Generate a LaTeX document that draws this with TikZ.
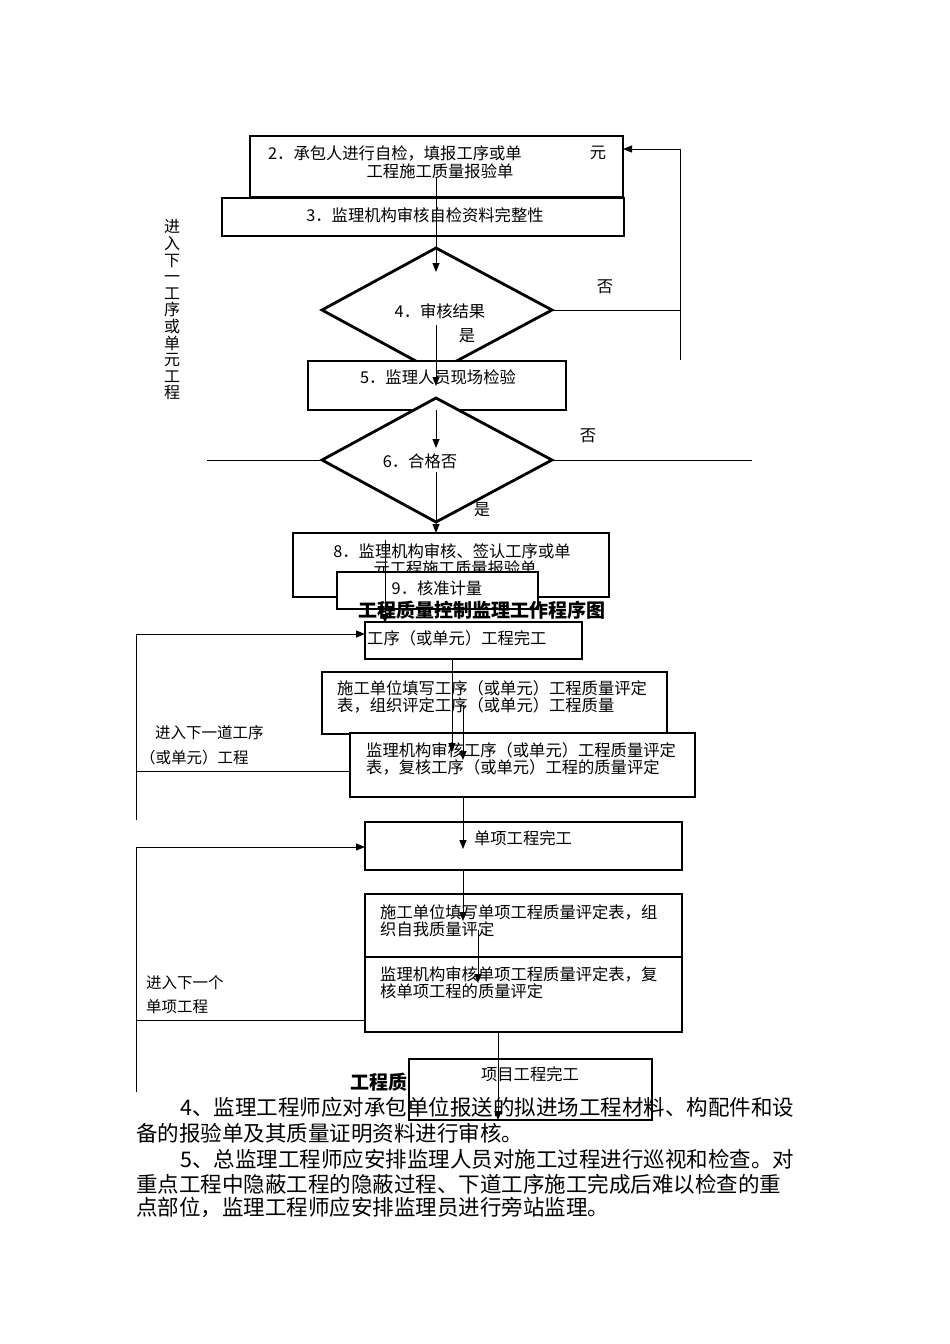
\documentclass[tikz,border=0pt]{standalone}
\usepackage{fontspec}
\setmainfont{Noto Sans CJK SC}
\usetikzlibrary{arrows.meta}
\begin{document}
\begin{tikzpicture}[x=1pt,y=-1pt,
  bx/.style={draw,line width=2.8pt,fill=white},
  dm/.style={draw,line width=2.8pt,fill=white},
  ln/.style={line width=1pt},
  ar/.style={line width=1pt,-{Triangle[length=9pt,width=7pt]}},
  t/.style={inner sep=0pt,font=\fontsize{16.3}{18}\selectfont},
  tl/.style={t,anchor=west},
  lb/.style={inner sep=0pt,anchor=west,font=\fontsize{15.5}{17}\selectfont},
  para/.style={inner sep=0pt,anchor=west,font=\fontsize{21.5}{24}\selectfont}]
\useasboundingbox[fill=white] (0,0) rectangle (950,1344);
% top part
\draw[bx] (250,136) rectangle (623,197);
\node[tl] (t2a) at (268,153) {2．承包人进行自检，填报工序或单};
\node[t] (t2b) at (598,153) {元};
\node[t] (t2c) at (440,171) {工程施工质量报验单};
\draw[bx] (222,198) rectangle (624,236);
\node[t] (t3) at (425,215) {3．监理机构审核自检资料完整性};
\draw[dm] (436,248) -- (552,310) -- (436,372) -- (322,310) -- cycle;
\node[t] (t4) at (440,311) {4．审核结果};
\coordinate (a1) at (436,178); \coordinate (a1e) at (436,272);
\draw[ar] (a1) -- (a1e);
\node[t] (y1) at (467,336) {是};
\node[t] (n1) at (605,287) {否};
\coordinate (r1) at (552,310); \coordinate (r2) at (680,310);
\coordinate (r3) at (680,360); \coordinate (r4) at (680,149); \coordinate (r5) at (623,149);
\draw[ln] (r1) -- (r2); \draw[ln] (r3) -- (r4); \draw[ar] (r4) -- (r5);
\draw[bx] (308,361) rectangle (566,410);
\node[t] (t5) at (438,377) {5．监理人员现场检验};
\coordinate (a2) at (436,325); \coordinate (a2e) at (436,386);
\draw[ar] (a2) -- (a2e);
\draw[dm] (436,398) -- (552,460) -- (436,522) -- (322,460) -- cycle;
\node[t] (t6) at (420,461) {6．合格否};
\coordinate (a3) at (436,410); \coordinate (a3e) at (436,448);
\draw[ar] (a3) -- (a3e);
\coordinate (h1) at (207,460); \coordinate (h2) at (322,460);
\coordinate (h3) at (552,460); \coordinate (h4) at (752,460);
\draw[ln] (h1) -- (h2); \draw[ln] (h3) -- (h4);
\node[t] (n2) at (588,436) {否};
\node[t] (y2) at (482,510) {是};
\coordinate (a4) at (436,472); \coordinate (a4e) at (436,533);
\draw[ar] (a4) -- (a4e);
\node[t,align=center,text width=17pt,font=\fontsize{16}{16.6}\selectfont] (vt) at (172,310) {进\\入\\下\\一\\工\\序\\或\\单\\元\\工\\程};
\draw[bx] (293,533) rectangle (609,597);
\node[t] (t8a) at (452,551) {8．监理机构审核、签认工序或单};
\node[t] (t8b) at (455,568) {元工程施工质量报验单};
\draw[bx] (337,572) rectangle (538,609);
\node[t] (t9) at (437,588) {9．核准计量};
\coordinate (a5) at (385,540); \coordinate (a5e) at (385,623);
\draw[ar] (a5) -- (a5e);
\node[t,font=\bfseries\fontsize{19}{20}\selectfont] (title) at (482,610) {工程质量控制监理工作程序图};
% middle part
\draw[bx] (365,622) rectangle (582,659);
\node[tl] (tg) at (367,638) {工序（或单元）工程完工};
\coordinate (l1) at (136,820); \coordinate (l2) at (136,634); \coordinate (l3) at (365,634);
\draw[ln] (l1) -- (l2); \draw[ar] (l2) -- (l3);
\node[lb] (lab1) at (155,733) {进入下一道工序};
\node[lb] (lab2) at (140,758) {（或单元）工程};
\draw[bx] (322,672) rectangle (667,734);
\node[tl] (tA1) at (337,688) {施工单位填写工序（或单元）工程质量评定};
\node[tl] (tA2) at (337,705) {表，组织评定工序（或单元）工程质量};
\draw[bx] (350,733) rectangle (695,797);
\node[tl] (tB1) at (366,750) {监理机构审核工序（或单元）工程质量评定};
\node[tl] (tB2) at (366,767) {表，复核工序（或单元）工程的质量评定};
\coordinate (m1) at (136,771); \coordinate (m2) at (350,771);
\draw[ln] (m1) -- (m2);
\coordinate (b1) at (452,659); \coordinate (b1e) at (452,752);
\draw[ar] (b1) -- (b1e);
\coordinate (b2) at (463,705); \coordinate (b2e) at (463,760);
\draw[ar] (b2) -- (b2e);
\draw[bx] (365,822) rectangle (682,870);
\node[t] (tD) at (523,838) {单项工程完工};
\coordinate (b3) at (463,797); \coordinate (b3e) at (463,849);
\draw[ar] (b3) -- (b3e);
\coordinate (k1) at (136,1092); \coordinate (k2) at (136,847); \coordinate (k3) at (365,847);
\draw[ln] (k1) -- (k2); \draw[ar] (k2) -- (k3);
\node[lb] (lab3) at (146,983) {进入下一个};
\node[lb] (lab4) at (146,1007) {单项工程};
\draw[bx] (365,894) rectangle (682,957);
\node[tl] (tC1) at (380,912) {施工单位填写单项工程质量评定表，组};
\node[tl] (tC2) at (380,929) {织自我质量评定};
\draw[bx] (365,957) rectangle (682,1032);
\node[tl] (tE1) at (380,974) {监理机构审核单项工程质量评定表，复};
\node[tl] (tE2) at (380,991) {核单项工程的质量评定};
\coordinate (b4) at (463,870); \coordinate (b4e) at (463,921);
\draw[ar] (b4) -- (b4e);
\coordinate (b5) at (478,930); \coordinate (b5e) at (478,983);
\draw[ar] (b5) -- (b5e);
\coordinate (q1) at (136,1020); \coordinate (q2) at (365,1020);
\draw[ln] (q1) -- (q2);
\node[tl,font=\bfseries\fontsize{19}{20}\selectfont] (title2) at (350,1082) {工程质};
\draw[bx] (409,1059) rectangle (652,1120);
\node[t] (tP) at (530,1074) {项目工程完工};
\coordinate (b6) at (498,1032); \coordinate (b6e) at (498,1120);
\draw[ar] (b6) -- (b6e);
% paragraph
\node[para] (p1) at (180,1107) {4、监理工程师应对承包单位报送的拟进场工程材料、构配件和设};
\node[para] (p2) at (136,1133) {备的报验单及其质量证明资料进行审核。};
\node[para] (p3) at (180,1159) {5、总监理工程师应安排监理人员对施工过程进行巡视和检查。对};
\node[para] (p4) at (136,1184) {重点工程中隐蔽工程的隐蔽过程、下道工序施工完成后难以检查的重};
\node[para] (p5) at (136,1208) {点部位，监理工程师应安排监理员进行旁站监理。};
\end{tikzpicture}
\end{document}
